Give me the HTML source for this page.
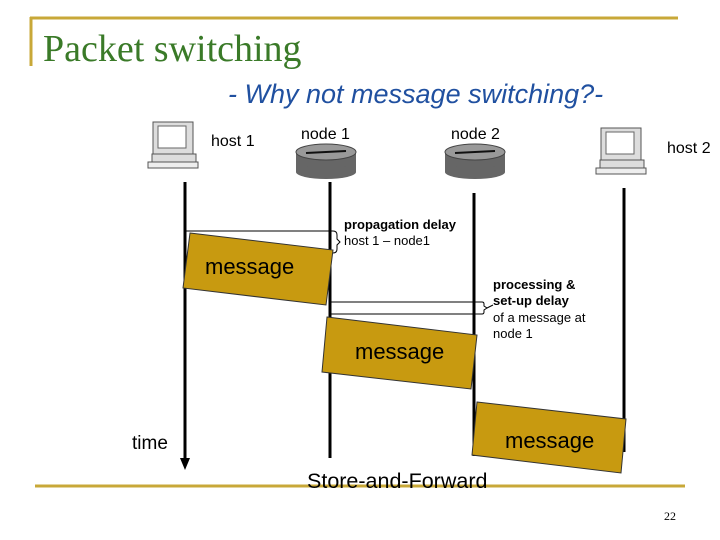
<!DOCTYPE html>
<html><head><style>
body{margin:0;width:720px;height:540px;background:#fff;overflow:hidden;position:relative;font-family:"Liberation Sans",sans-serif}
.t{position:absolute;white-space:nowrap}
</style></head><body>
<svg width="720" height="540" style="position:absolute;left:0;top:0">
<line x1="30" y1="18" x2="678" y2="18" stroke="#c8a838" stroke-width="3"/>
<line x1="31" y1="17" x2="31" y2="66" stroke="#c8a838" stroke-width="3"/>
<line x1="35" y1="486" x2="685" y2="486" stroke="#c8a838" stroke-width="3"/>
<g transform="translate(148,122)">
<rect x="5" y="0" width="40" height="32" fill="#ddd" stroke="#555"/><rect x="10" y="4" width="28" height="22" fill="#fff" stroke="#666"/>
<rect x="4" y="32" width="44" height="8" fill="#ddd" stroke="#555"/><rect x="0" y="40" width="50" height="6" fill="#eee" stroke="#555"/>
</g>
<g transform="translate(596,128)">
<rect x="5" y="0" width="40" height="32" fill="#ddd" stroke="#555"/><rect x="10" y="4" width="28" height="22" fill="#fff" stroke="#666"/>
<rect x="4" y="32" width="44" height="8" fill="#ddd" stroke="#555"/><rect x="0" y="40" width="50" height="6" fill="#eee" stroke="#555"/>
</g>
<g><rect x="296" y="152" width="60" height="20" fill="#666"/><ellipse cx="326" cy="172" rx="30" ry="7" fill="#666"/><ellipse cx="326" cy="152" rx="30" ry="8" fill="#999" stroke="#444"/><line x1="306" y1="153" x2="346" y2="151" stroke="#111" stroke-width="2"/></g>
<g><rect x="445" y="152" width="60" height="20" fill="#666"/><ellipse cx="475" cy="172" rx="30" ry="7" fill="#666"/><ellipse cx="475" cy="152" rx="30" ry="8" fill="#999" stroke="#444"/><line x1="455" y1="153" x2="495" y2="151" stroke="#111" stroke-width="2"/></g>
<line x1="185" y1="182" x2="185" y2="460" stroke="#000" stroke-width="3"/>
<polygon points="180,458 190,458 185,470" fill="#000"/>
<line x1="330" y1="182" x2="330" y2="458" stroke="#000" stroke-width="3"/>
<line x1="474" y1="193" x2="474" y2="456" stroke="#000" stroke-width="3"/>
<line x1="624" y1="188" x2="624" y2="452" stroke="#000" stroke-width="3"/>
<line x1="185" y1="231" x2="333" y2="231" stroke="#000"/>
<path d="M333,231 q4,0 4,4 v4 l3,3 l-3,3 v4 q0,4 -4,4" fill="none" stroke="#000"/>
<line x1="330" y1="302" x2="482" y2="302" stroke="#000"/>
<line x1="330" y1="314" x2="482" y2="314" stroke="#000"/>
<path d="M482,302 q2,0 2,2 v2 l3,2 l-3,2 v2 q0,2 -2,2" fill="none" stroke="#000"/>
<line x1="487" y1="308" x2="493" y2="305" stroke="#000"/>
<polygon points="190,233 333,250 326,305 183,288" fill="#c89a10" stroke="#333"/>
<polygon points="327,317 477,335 471,389 322,372" fill="#c89a10" stroke="#333"/>
<polygon points="477,402 626,419 621,473 472,455" fill="#c89a10" stroke="#333"/>
</svg>
<div class="t" style="left:43px;top:27px;font-family:'Liberation Serif',serif;font-size:38px;color:#3a7a28">Packet switching</div>
<div class="t" style="left:228px;top:79px;font-size:27px;font-style:italic;color:#2050a0">- Why not message switching?-</div>
<div class="t" style="left:211px;top:133px;font-size:16px">host 1</div>
<div class="t" style="left:301px;top:126px;font-size:16px">node 1</div>
<div class="t" style="left:451px;top:126px;font-size:16px">node 2</div>
<div class="t" style="left:667px;top:140px;font-size:16px">host 2</div>
<div class="t" style="left:344px;top:217px;font-size:13px;font-weight:bold">propagation delay</div>
<div class="t" style="left:344px;top:233px;font-size:13px">host 1 – node1</div>
<div class="t" style="left:493px;top:277px;font-size:13px;font-weight:bold;line-height:16px">processing &amp;<br>set-up delay</div>
<div class="t" style="left:493px;top:310px;font-size:13px;line-height:16px">of a message at<br>node 1</div>
<div class="t" style="left:205px;top:254px;font-size:22px">message</div>
<div class="t" style="left:355px;top:339px;font-size:22px">message</div>
<div class="t" style="left:505px;top:428px;font-size:22px">message</div>
<div class="t" style="left:132px;top:433px;font-size:19px">time</div>
<div class="t" style="left:307px;top:469px;font-size:21.5px">Store-and-Forward</div>
<div class="t" style="left:664px;top:509px;font-family:'Liberation Serif',serif;font-size:12px">22</div>
</body></html>
